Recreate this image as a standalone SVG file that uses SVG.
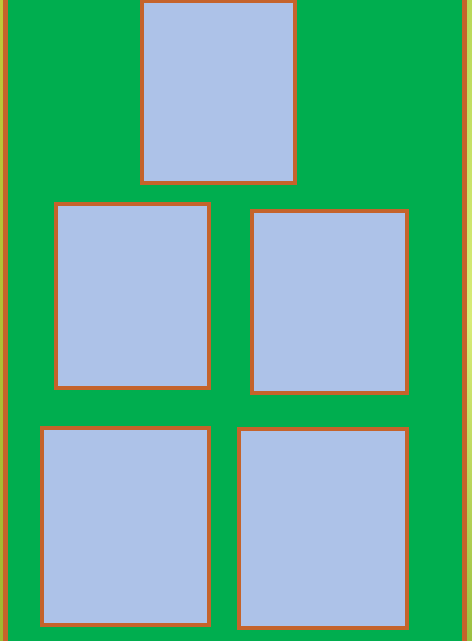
<svg xmlns="http://www.w3.org/2000/svg" width="472" height="641" viewBox="0 0 472 641">
  <defs>
    <linearGradient id="edgeL" x1="0" y1="0" x2="0" y2="1">
      <stop offset="0" stop-color="#BFC93A"/>
      <stop offset="1" stop-color="#9FB830"/>
    </linearGradient>
    <linearGradient id="edgeR" x1="0" y1="0" x2="0" y2="1">
      <stop offset="0" stop-color="#B8D858"/>
      <stop offset="0.5" stop-color="#D8EC78"/>
      <stop offset="1" stop-color="#9CC040"/>
    </linearGradient>
  </defs>
  <style>
    .node rect { fill: #ADC2E8; stroke: #C5632B; stroke-width: 4; }
  </style>
  <rect x="0" y="0" width="4" height="641" fill="url(#edgeL)"/>
  <rect x="466" y="0" width="6" height="641" fill="url(#edgeR)"/>
  <rect x="5.5" y="-10" width="459" height="661" fill="#00AE4F" stroke="#C5632B" stroke-width="5"/>
  <g id="node1" class="node"><rect x="142" y="1" width="153" height="182"/></g>
  <g id="node2" class="node"><rect x="56" y="204" width="153" height="184"/></g>
  <g id="node3" class="node"><rect x="252" y="211" width="155" height="182"/></g>
  <g id="node4" class="node"><rect x="42" y="428" width="167" height="197"/></g>
  <g id="node5" class="node"><rect x="239" y="429" width="168" height="199"/></g>
  <g id="connectors"></g>
</svg>
